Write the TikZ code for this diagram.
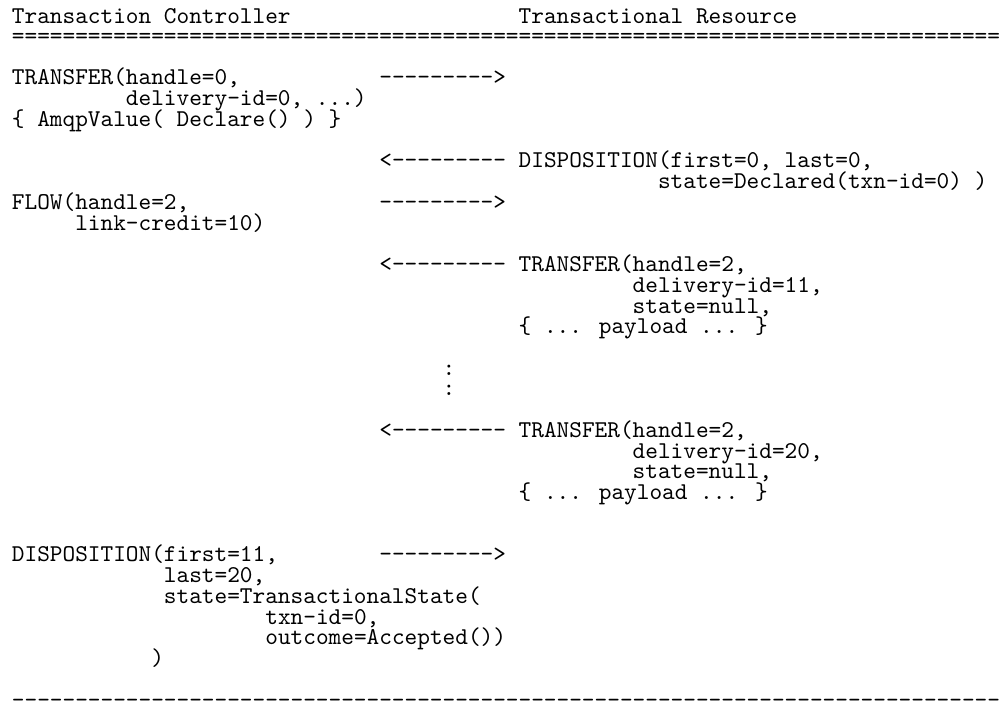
\documentclass[tikz,border=0pt]{standalone}
\usepackage{fontspec}

\begin{document}
\begin{tikzpicture}[
    x=5.25pt,
    y=-8.594pt,
    font=\ttfamily,
    msg/.style={anchor=base west, inner sep=0pt, outer sep=0pt},
    wire/.style={msg},
    rule/.style={msg}
]
\useasboundingbox (-0.947,-1.098) rectangle (78,32.75);

% Column headings and the double rule under them.
\node[msg] (ctrl) at (0,0.05) {Transaction Controller};
\node[msg] (res) at (40,0.05) {Transactional Resource};
\node[rule] (toprule) at (0,1)
  {==============================================================================};

% Declare: controller -> resource, and the answer.
\node[msg] (declare) at (0,3) {TRANSFER(handle=0,};
\node[msg] (declare2) at (9,4) {delivery-id=0, ...)};
\node[msg] (declare3) at (0,5) {\{ AmqpValue( Declare() ) \}};
\node[msg] (declared) at (40,7) {DISPOSITION(first=0, last=0,};
\node[msg] (declared2) at (51,8) {state=Declared(txn-id=0) )};

% Credit for the transactional link.
\node[msg] (flow) at (0,9) {FLOW(handle=2,};
\node[msg] (flow2) at (5,10) {link-credit=10)};

% Deliveries 11 ... 20 coming back.
\foreach \l/\d/\n in {12/11/a,20/20/b} {
    \node[msg] (xfer\n) at (40,\l) {TRANSFER(handle=2,};
    \node[msg] (xfer\n2) at (49,\l+1) {delivery-id=\d,};
    \node[msg] (xfer\n3) at (49,\l+2) {state=null,};
    \node[msg] (xfer\n4) at (40,\l+3) {\{ ... payload ... \}};
}
\node[msg] (gap1) at (34,17) {:};
\node[msg] (gap2) at (34,18) {:};

% Settle 11 ... 20 under the transaction.
\node[msg] (settle) at (0,26) {DISPOSITION(first=11,};
\node[msg] (settle2) at (12,27) {last=20,};
\node[msg] (settle3) at (12,28) {state=TransactionalState(};
\node[msg] (settle4) at (20,29) {txn-id=0,};
\node[msg] (settle5) at (20,30) {outcome=Accepted())};
\node[msg] (settle6) at (11,31) {)};

% ASCII arrows between the two columns.
\foreach \l/\n in {3/a,9/b,26/c} {
    \node[wire] (out\n) at (29,\l) {--------->};
}
\foreach \l/\n in {7/a,12/b,20/c} {
    \node[wire] (back\n) at (29,\l) {<---------};
}

\node[rule] (endrule) at (0,33)
  {------------------------------------------------------------------------------};
\end{tikzpicture}
\end{document}
